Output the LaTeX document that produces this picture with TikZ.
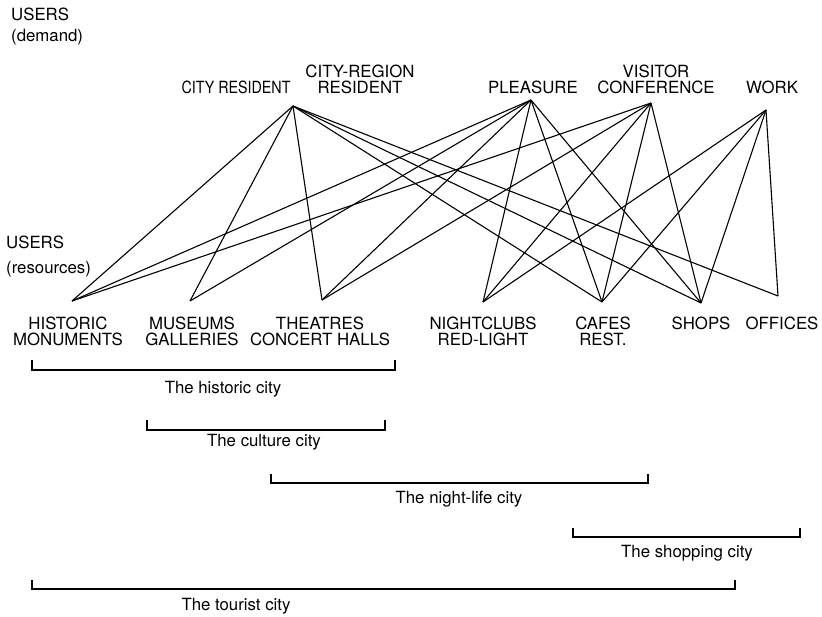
\documentclass[tikz,border=0pt]{standalone}
\usepackage{fontspec}
\setmainfont{TeX Gyre Heros}
\begin{document}
\begin{tikzpicture}[x=1pt,y=-1pt,
  lbl/.style={font=\fontsize{16.8}{16}\selectfont, inner sep=0pt, align=center},
  small/.style={font=\fontsize{16.8}{16}\selectfont, inner sep=0pt},
  link/.style={line width=1.1pt, line join=round},
  brk/.style={line width=1.1pt}]
\useasboundingbox (0,0) rectangle (822,616);
% vertices
\coordinate (CR) at (293,106);
\coordinate (PL) at (531,100);
\coordinate (VC) at (651,103);
\coordinate (WK) at (766,110);
\coordinate (HM) at (72,301);
\coordinate (MG) at (190,301);
\coordinate (TC) at (322,300);
\coordinate (NC) at (483,302);
\coordinate (CF) at (602,302);
\coordinate (SH) at (701,303);
\coordinate (OF) at (778,296);
% side labels
\node[lbl, anchor=base west] (ud1) at (11,20) {USERS};
\node[lbl, anchor=base west] (ud2) at (11,41) {(demand)};
\node[lbl, anchor=base west] (ur1) at (6,248) {USERS};
\node[lbl, anchor=base west] (ur2) at (6,273) {(resources)};
% demand labels
\node[lbl, anchor=base] (lCR) at (236,93) {\scalebox{0.85}[1]{CITY RESIDENT}};
\node[lbl, anchor=center] (lCRR) at (360,79) {CITY-REGION\\RESIDENT};
\node[lbl, anchor=base] (lPL) at (533,93) {PLEASURE};
\node[lbl, anchor=center] (lVC) at (656,79) {VISITOR\\CONFERENCE};
\node[lbl, anchor=base] (lWK) at (772,93) {WORK};
% resource labels
\node[lbl, anchor=center] (lHM) at (68,331) {HISTORIC\\MONUMENTS};
\node[lbl, anchor=center] (lMG) at (192,331) {MUSEUMS\\GALLERIES};
\node[lbl, anchor=center] (lTC) at (320,331) {THEATRES\\CONCERT HALLS};
\node[lbl, anchor=center] (lNC) at (483,331) {NIGHTCLUBS\\RED-LIGHT};
\node[lbl, anchor=center] (lCF) at (603,331) {CAFES\\REST.};
\node[lbl, anchor=base] (lSH) at (701,329) {SHOPS};
\node[lbl, anchor=base] (lOF) at (782,329) {OFFICES};
% links
\foreach \a/\b in {CR/HM,CR/MG,CR/TC,CR/CF,CR/SH,CR/OF,
                   PL/HM,PL/MG,PL/TC,PL/NC,PL/CF,PL/SH,
                   VC/HM,VC/TC,VC/NC,VC/CF,VC/SH,
                   WK/NC,WK/CF,WK/SH,WK/OF}
  \draw[link] (\a) -- (\b);
% brackets
\draw[brk] (32,360) -- (32,370) -- (395,370) -- (395,360);
\node[small, anchor=base] (bHist) at (223,393) {The historic city};
\draw[brk] (147,420) -- (147,430) -- (385,430) -- (385,420);
\node[small, anchor=base] (bCult) at (264,446) {The culture city};
\draw[brk] (271,474) -- (271,483) -- (648,483) -- (648,474);
\node[small, anchor=base] (bNight) at (459,503) {The night-life city};
\draw[brk] (573,528) -- (573,537) -- (800,537) -- (800,528);
\node[small, anchor=base] (bShop) at (687,557) {The shopping city};
\draw[brk] (32,580) -- (32,589) -- (735,589) -- (735,580);
\node[small, anchor=base] (bTour) at (236,610) {The tourist city};
\end{tikzpicture}
\end{document}
